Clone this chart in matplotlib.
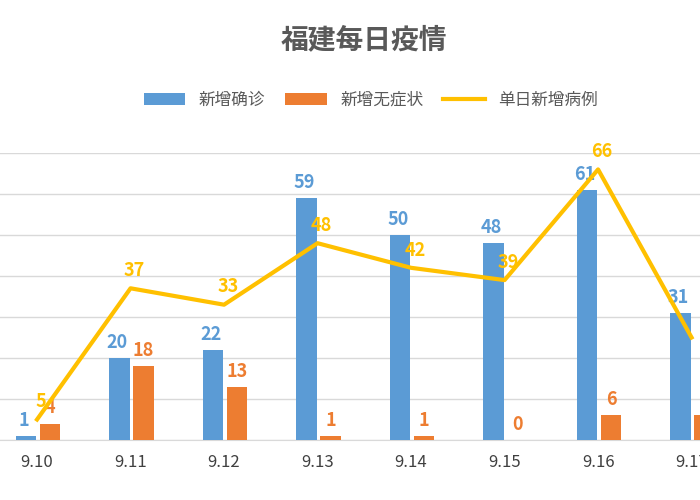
import matplotlib
matplotlib.use("Agg")
import matplotlib.pyplot as plt
from matplotlib import font_manager
import numpy as np
import glob

fam = "DejaVu Sans"
for f in glob.glob("/usr/share/fonts/**/*CJK*", recursive=True) + glob.glob("/usr/share/fonts/**/*cjk*", recursive=True):
    try:
        font_manager.fontManager.addfont(f)
    except Exception:
        pass
names = {f.name for f in font_manager.fontManager.ttflist}
for n in ["Noto Sans CJK SC", "Noto Sans CJK JP", "Noto Sans SC", "Noto Sans CJK TC"]:
    if n in names:
        fam = n
        break
else:
    for n in names:
        if "CJK" in n:
            fam = n
            break
plt.rcParams["font.family"] = [fam, "DejaVu Sans"]

categories = ["9.10", "9.11", "9.12", "9.13", "9.14", "9.15", "9.16", "9.17"]
confirmed = [1, 20, 22, 59, 50, 48, 61, 31]
asymptomatic = [4, 18, 13, 1, 1, 0, 6, 6]
daily_total = [5, 37, 33, 48, 42, 39, 66, 25]

blue = "#5B9BD5"
orange = "#ED7D31"
gold = "#FFC000"

fig = plt.figure(figsize=(7, 5), dpi=100)
ax = fig.add_axes([0, 0.12, 1, 0.574])
x = np.arange(len(categories))
w = 0.22
b1 = ax.bar(x - 0.12, confirmed, w, color=blue, zorder=3, label="新增确诊")
b2 = ax.bar(x + 0.14, asymptomatic, w, color=orange, zorder=3, label="新增无症状")
l1, = ax.plot(x, daily_total, color=gold, lw=3, zorder=4, label="单日新增病例")

for i in range(len(x)):
    ax.text(x[i] - 0.14, confirmed[i] + 1.5, str(confirmed[i]), color=blue,
            ha="center", va="bottom", fontsize=13, fontweight="bold")
    if i < 7:
        ax.text(x[i] + 0.14, asymptomatic[i] + 1.5, str(asymptomatic[i]), color=orange,
                ha="center", va="bottom", fontsize=13, fontweight="bold")
        ax.text(x[i] + 0.04, daily_total[i] + 2, str(daily_total[i]), color=gold,
                ha="center", va="bottom", fontsize=13, fontweight="bold")

ax.set_xlim(-0.396, 7.09)
ax.set_ylim(0, 70)
ax.set_yticks(range(0, 71, 10))
ax.yaxis.grid(True, color="#D9D9D9", lw=1, zorder=0)
ax.tick_params(axis="y", left=False, labelleft=False)
ax.set_xticks(x)
ax.set_xticklabels(categories, fontsize=12, color="#404040")
ax.tick_params(axis="x", length=0, pad=10)
for s in ["top", "right", "left"]:
    ax.spines[s].set_visible(False)
ax.spines["bottom"].set_color("#D9D9D9")

fig.text(0.52, 0.92, "福建每日疫情", ha="center", va="center", fontsize=20,
         fontweight="bold", color="#595959")
fig.legend([b1, b2, l1], ["新增确诊", "新增无症状", "单日新增病例"],
           loc="center", bbox_to_anchor=(0.53, 0.80), ncol=3, frameon=False,
           fontsize=12, handlelength=2.5, columnspacing=1.2, labelcolor="#595959")
fig.savefig("out.png", dpi=100)
